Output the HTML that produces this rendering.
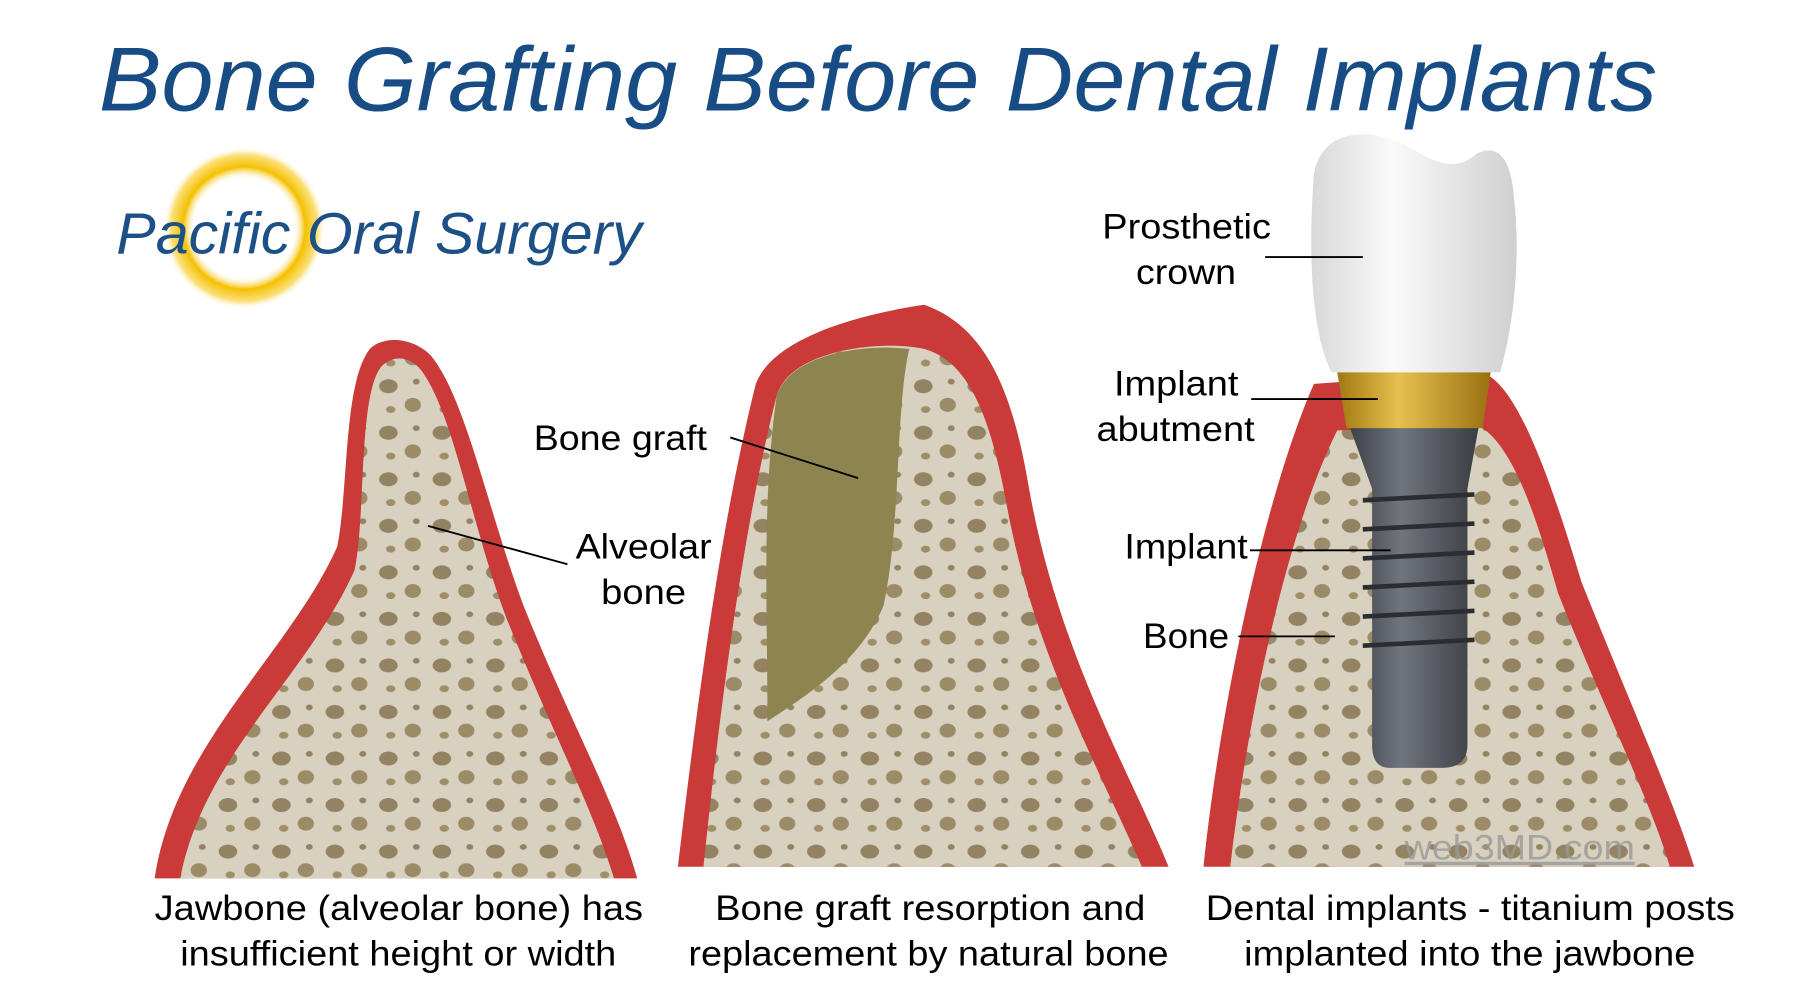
<!DOCTYPE html>
<html><head><meta charset="utf-8"><style>
html,body{margin:0;padding:0;background:#fff}
svg{display:block}
text{font-family:"Liberation Sans",sans-serif}
</style></head><body>
<svg width="1800" height="1004" viewBox="0 0 1548 863" preserveAspectRatio="none">
<defs>
<radialGradient id="ring" cx="50%" cy="50%" r="50%">
<stop offset="60%" stop-color="#fff" stop-opacity="0"/>
<stop offset="75%" stop-color="#f5c000"/>
<stop offset="90%" stop-color="#fbe07a"/>
<stop offset="100%" stop-color="#fff" stop-opacity="0"/>
</radialGradient>
<linearGradient id="crown" x1="0" x2="1"><stop offset="0" stop-color="#d8d8d8"/><stop offset="0.4" stop-color="#fafafa"/><stop offset="1" stop-color="#cfcfcf"/></linearGradient>
<linearGradient id="gold" x1="0" x2="1"><stop offset="0" stop-color="#a07810"/><stop offset="0.4" stop-color="#e8c050"/><stop offset="1" stop-color="#9a7010"/></linearGradient>
<linearGradient id="ti" x1="0" x2="1"><stop offset="0" stop-color="#3c4046"/><stop offset="0.4" stop-color="#70757c"/><stop offset="1" stop-color="#3a3d42"/></linearGradient>
<pattern id="pores" width="46" height="40" patternUnits="userSpaceOnUse">
<rect width="46" height="40" fill="#d9d1c1"/>
<ellipse cx="12" cy="12" rx="8" ry="6" fill="#6e5a30"/>
<ellipse cx="33" cy="28" rx="7" ry="6" fill="#7a6638"/>
<ellipse cx="36" cy="8" rx="3" ry="2.5" fill="#6e5a30"/>
<ellipse cx="14" cy="32" rx="4" ry="3" fill="#806a3a"/>
</pattern>
</defs>

<text x="85" y="95" font-size="78" font-style="italic" fill="#174d84" textLength="1340" lengthAdjust="spacingAndGlyphs">Bone Grafting Before Dental Implants</text>

<circle cx="210" cy="196" r="70" fill="url(#ring)"/>
<text x="100" y="218" font-size="50" font-style="italic" fill="#1e5088" textLength="452" lengthAdjust="spacingAndGlyphs">Pacific Oral Surgery</text>

<!-- Panel 1 -->
<path d="M133,755 C150,640 250,560 290,470 C300,420 295,330 318,300 C330,288 355,290 370,305 C400,340 420,440 450,520 C490,620 530,690 548,755 Z" fill="#c93a38"/>
<path d="M155,755 C175,650 265,580 305,490 C315,440 308,340 328,315 C338,305 352,306 362,318 C390,355 405,450 435,530 C475,630 510,695 528,755 Z" fill="url(#pores)"/>
<path d="M155,755 C175,650 265,580 305,490 C315,440 308,340 328,315 C338,305 352,306 362,318 C390,355 405,450 435,530 C475,630 510,695 528,755 Z" fill="#d9d1c1" fill-opacity="0.35"/>
<line x1="368" y1="452" x2="488" y2="485" stroke="#000" stroke-width="1.6"/>

<!-- Panel 2 -->
<path d="M583,745 C600,600 620,450 650,330 C665,290 740,270 795,262 C845,280 870,330 885,420 C910,560 970,660 1005,745 Z" fill="#c93a38"/>
<path d="M605,745 C620,600 640,450 668,340 C680,300 760,292 795,300 C830,310 850,350 865,430 C888,560 945,660 982,745 Z" fill="url(#pores)"/>
<path d="M605,745 C620,600 640,450 668,340 C680,300 760,292 795,300 C830,310 850,350 865,430 C888,560 945,660 982,745 Z" fill="#d9d1c1" fill-opacity="0.35"/>
<path d="M668,340 C680,305 740,295 782,300 C770,350 775,450 760,520 C740,570 690,600 660,620 C660,520 655,430 668,340 Z" fill="#8e8450"/>
<line x1="628" y1="376" x2="738" y2="411" stroke="#000" stroke-width="1.6"/>

<!-- Panel 3 -->
<path d="M1035,745 C1050,600 1090,420 1130,330 L1270,320 C1300,320 1330,400 1360,500 C1400,600 1440,690 1457,745 Z" fill="#c93a38"/>
<path d="M1058,745 C1075,600 1110,450 1150,370 L1270,365 C1300,380 1320,440 1340,510 C1380,610 1420,690 1436,745 Z" fill="url(#pores)"/>
<path d="M1058,745 C1075,600 1110,450 1150,370 L1270,365 C1300,380 1320,440 1340,510 C1380,610 1420,690 1436,745 Z" fill="#d9d1c1" fill-opacity="0.35"/>
<path d="M1160,365 L1272,365 L1262,420 L1262,640 Q1262,660 1240,660 L1195,660 Q1180,660 1180,640 L1180,420 Z" fill="url(#ti)"/>
<g stroke="#2a2d31" stroke-width="4">
<line x1="1172" y1="430" x2="1268" y2="425"/><line x1="1172" y1="455" x2="1268" y2="450"/><line x1="1172" y1="480" x2="1268" y2="475"/><line x1="1172" y1="505" x2="1268" y2="500"/><line x1="1172" y1="530" x2="1268" y2="525"/><line x1="1172" y1="555" x2="1268" y2="550"/></g>
<path d="M1150,320 L1282,320 L1275,368 L1158,368 Z" fill="url(#gold)"/>
<path d="M1145,320 C1125,280 1126,200 1130,150 C1136,112 1175,108 1210,125 C1240,145 1255,145 1270,132 C1290,122 1300,140 1302,170 C1308,220 1302,280 1290,320 Z" fill="url(#crown)"/>
<g stroke="#000" stroke-width="1.6">
<line x1="1088" y1="221" x2="1172" y2="221"/>
<line x1="1076" y1="343" x2="1185" y2="343"/>
<line x1="1075" y1="473" x2="1196" y2="473"/>
<line x1="1065" y1="547" x2="1148" y2="547"/></g>
<text x="1208" y="739" font-size="30" fill="#999" text-decoration="underline" opacity="0.8" textLength="198" lengthAdjust="spacingAndGlyphs">web3MD.com</text>

<g font-size="30" fill="#000" lengthAdjust="spacingAndGlyphs">
<text x="459" y="387" textLength="149" lengthAdjust="spacingAndGlyphs">Bone graft</text>
<text x="495" y="480" textLength="117" lengthAdjust="spacingAndGlyphs">Alveolar</text>
<text x="517" y="519" textLength="73" lengthAdjust="spacingAndGlyphs">bone</text>
<text x="948" y="205" textLength="145" lengthAdjust="spacingAndGlyphs">Prosthetic</text>
<text x="977" y="244" textLength="86" lengthAdjust="spacingAndGlyphs">crown</text>
<text x="958" y="340" textLength="107" lengthAdjust="spacingAndGlyphs">Implant</text>
<text x="943" y="379" textLength="136" lengthAdjust="spacingAndGlyphs">abutment</text>
<text x="967" y="480" textLength="106" lengthAdjust="spacingAndGlyphs">Implant</text>
<text x="983" y="557" textLength="74" lengthAdjust="spacingAndGlyphs">Bone</text>
<text x="133" y="791" textLength="420" lengthAdjust="spacingAndGlyphs">Jawbone (alveolar bone) has</text>
<text x="155" y="830" textLength="375" lengthAdjust="spacingAndGlyphs">insufficient height or width</text>
<text x="615" y="791" textLength="370" lengthAdjust="spacingAndGlyphs">Bone graft resorption and</text>
<text x="592" y="830" textLength="413" lengthAdjust="spacingAndGlyphs">replacement by natural bone</text>
<text x="1037" y="791" textLength="455" lengthAdjust="spacingAndGlyphs">Dental implants - titanium posts</text>
<text x="1070" y="830" textLength="388" lengthAdjust="spacingAndGlyphs">implanted into the jawbone</text>
</g>
</svg>
</body></html>
